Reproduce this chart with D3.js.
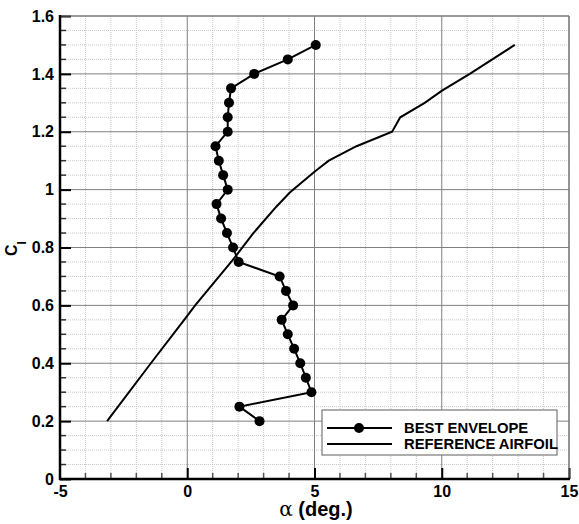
<!DOCTYPE html>
<html>
<head>
<meta charset="utf-8">
<script src="https://cdn.jsdelivr.net/npm/d3@7"></script>
<style>
html,body{margin:0;padding:0;background:#fff;}
svg{display:block;}
text{font-family:"Liberation Sans",Arial,Helvetica,sans-serif;font-weight:bold;fill:#000;}
</style>
</head>
<body>
<svg id="chart" width="579" height="524"></svg>
<script>
// ---- data ----
const envelopeCl = [1.50,1.45,1.40,1.35,1.30,1.25,1.20,1.15,1.10,1.05,1.00,0.95,0.90,0.85,0.80,0.75,0.70,0.65,0.60,0.55,0.50,0.45,0.40,0.35,0.30,0.25,0.20];
const envelopeAlpha = [5.05,3.95,2.63,1.72,1.64,1.59,1.59,1.11,1.24,1.41,1.59,1.15,1.33,1.56,1.80,2.02,3.63,3.88,4.16,3.71,3.95,4.20,4.44,4.66,4.88,2.05,2.84];
const refAlpha = [-3.15,-1.43,0.00,0.31,1.79,2.59,3.50,4.03,5.00,5.56,6.65,8.05,8.37,9.33,10.01,11.10,12.87];
const refCl = [0.20,0.40,0.564,0.60,0.757,0.849,0.941,0.99,1.062,1.10,1.15,1.20,1.25,1.30,1.342,1.40,1.50];
const xMajorTicks = [-5,0,5,10,15];
const yMajorTicks = [0,0.2,0.4,0.6,0.8,1,1.2,1.4,1.6];
const xTickLabels = ["-5","0","5","10","15"];
const yTickLabels = ["0","0.2","0.4","0.6","0.8","1","1.2","1.4","1.6"];
const legendLabels = ["BEST ENVELOPE","REFERENCE AIRFOIL"];

// ---- layout ----
const W = 579, H = 524;
const m = {left:60, right:10, top:16, bottom:45};
const x = d3.scaleLinear().domain([-5,15]).range([m.left, W - m.right]);
const y = d3.scaleLinear().domain([0,1.6]).range([H - m.bottom, m.top]);
const svg = d3.select("#chart");

const xMinor = d3.range(-5, 15.001, 1).filter(v => Math.abs(v % 5) > 1e-6);
const yMinor = d3.range(0, 1.6001, 0.05).map(v => +v.toFixed(2)).filter(v => Math.abs((v*5) - Math.round(v*5)) > 1e-6);

// minor grid
const g = svg.append("g");
g.selectAll(".mgx").data(xMinor).enter().append("line")
  .attr("x1", d => x(d)).attr("x2", d => x(d)).attr("y1", y(0)).attr("y2", y(1.6))
  .attr("stroke", "#c8c8c8").attr("stroke-width", 1).attr("stroke-dasharray", "1,1");
g.selectAll(".mgy").data(yMinor).enter().append("line")
  .attr("x1", x(-5)).attr("x2", x(15)).attr("y1", d => y(d)).attr("y2", d => y(d))
  .attr("stroke", "#c8c8c8").attr("stroke-width", 1).attr("stroke-dasharray", "1,1");
// major grid
g.selectAll(".gx").data(xMajorTicks).enter().append("line")
  .attr("x1", d => x(d)).attr("x2", d => x(d)).attr("y1", y(0)).attr("y2", y(1.6))
  .attr("stroke", "#808080").attr("stroke-width", 1);
g.selectAll(".gy").data(yMajorTicks).enter().append("line")
  .attr("x1", x(-5)).attr("x2", x(15)).attr("y1", d => y(d)).attr("y2", d => y(d))
  .attr("stroke", "#808080").attr("stroke-width", 1);

// minor ticks
const ax = svg.append("g");
ax.selectAll(".mtx").data(xMinor).enter().append("line")
  .attr("x1", d => x(d)).attr("x2", d => x(d)).attr("y1", y(0)).attr("y2", y(0) - 6)
  .attr("stroke", "#555").attr("stroke-width", 1.5);
ax.selectAll(".mty").data(yMinor).enter().append("line")
  .attr("x1", x(-5)).attr("x2", x(-5) + 6).attr("y1", d => y(d)).attr("y2", d => y(d))
  .attr("stroke", "#333").attr("stroke-width", 1.5);

// axes via d3
const xAxis = d3.axisBottom(x).tickValues(xMajorTicks).tickSize(-11).tickPadding(4)
  .tickFormat((d,i) => xTickLabels[i]);
const yAxis = d3.axisLeft(y).tickValues(yMajorTicks).tickSize(-11).tickPadding(6)
  .tickFormat((d,i) => yTickLabels[i]);
const gx = svg.append("g").attr("transform", `translate(0,${y(0)})`).call(xAxis);
const gy = svg.append("g").attr("transform", `translate(${x(-5)},0)`).call(yAxis);
[gx, gy].forEach(a => {
  a.select(".domain").remove();
  a.selectAll(".tick line").attr("stroke", "#000").attr("stroke-width", 2);
  a.selectAll("text").style("font-size", "16px").style("font-weight", "bold")
    .style("font-family", '"Liberation Sans",Arial,sans-serif').attr("fill", "#000");
});
gx.selectAll("text").attr("dy", "0.85em");
gx.selectAll(".tick").filter(d => d === -5).select("line").remove();

// frame
svg.append("line").attr("x1", x(-5)).attr("x2", x(15)).attr("y1", y(1.6)).attr("y2", y(1.6))
  .attr("stroke", "#777").attr("stroke-width", 1.2);
svg.append("line").attr("x1", x(15)).attr("x2", x(15)).attr("y1", y(1.6)).attr("y2", y(0))
  .attr("stroke", "#777").attr("stroke-width", 1.2);
svg.append("line").attr("x1", x(-5)).attr("x2", x(-5)).attr("y1", y(1.6)-1).attr("y2", y(0)+1)
  .attr("stroke", "#000").attr("stroke-width", 2.5);
svg.append("line").attr("x1", x(-5)-1).attr("x2", x(15)+1).attr("y1", y(0)).attr("y2", y(0))
  .attr("stroke", "#000").attr("stroke-width", 2.5);

// series
const line = d3.line().x(d => x(d[0])).y(d => y(d[1]));
const refData = refAlpha.map((a,i) => [a, refCl[i]]);
const envData = envelopeAlpha.map((a,i) => [a, envelopeCl[i]]);
svg.append("path").datum(refData).attr("d", line).attr("fill", "none")
  .attr("stroke", "#000").attr("stroke-width", 2);
svg.append("path").datum(envData).attr("d", line).attr("fill", "none")
  .attr("stroke", "#000").attr("stroke-width", 2);
svg.selectAll(".pt").data(envData).enter().append("circle")
  .attr("cx", d => x(d[0])).attr("cy", d => y(d[1])).attr("r", 5).attr("fill", "#000");

// legend
const lg = svg.append("g");
lg.append("rect").attr("x", 322).attr("y", 410).attr("width", 235).attr("height", 45)
  .attr("fill", "#fff").attr("stroke", "#777").attr("stroke-width", 1.2);
lg.append("line").attr("x1", 327).attr("x2", 392).attr("y1", 428).attr("y2", 428).attr("stroke", "#000").attr("stroke-width", 2);
lg.append("circle").attr("cx", 359).attr("cy", 428).attr("r", 5).attr("fill", "#000");
lg.append("line").attr("x1", 327).attr("x2", 392).attr("y1", 444).attr("y2", 444).attr("stroke", "#000").attr("stroke-width", 2);
lg.selectAll(".lt").data(legendLabels).enter().append("text")
  .attr("x", 404).attr("y", (d,i) => 433 + i*16).style("font-size", "14.8px").text(d => d);

// axis titles
const xt = svg.append("text").attr("x", 316).attr("y", 516).attr("text-anchor", "middle").style("font-size", "20px");
xt.append("tspan").style("font-family", '"DejaVu Serif","Liberation Serif",serif').style("font-weight", "normal").text("α");
xt.append("tspan").text(" (deg.)");
const yt = svg.append("text").attr("transform", "translate(17,256) rotate(-90)").attr("text-anchor", "start").style("font-size", "16px");
yt.append("tspan").text("C");
yt.append("tspan").attr("dy", 9).style("font-size", "12px").text("l");
</script>
</body>
</html>
